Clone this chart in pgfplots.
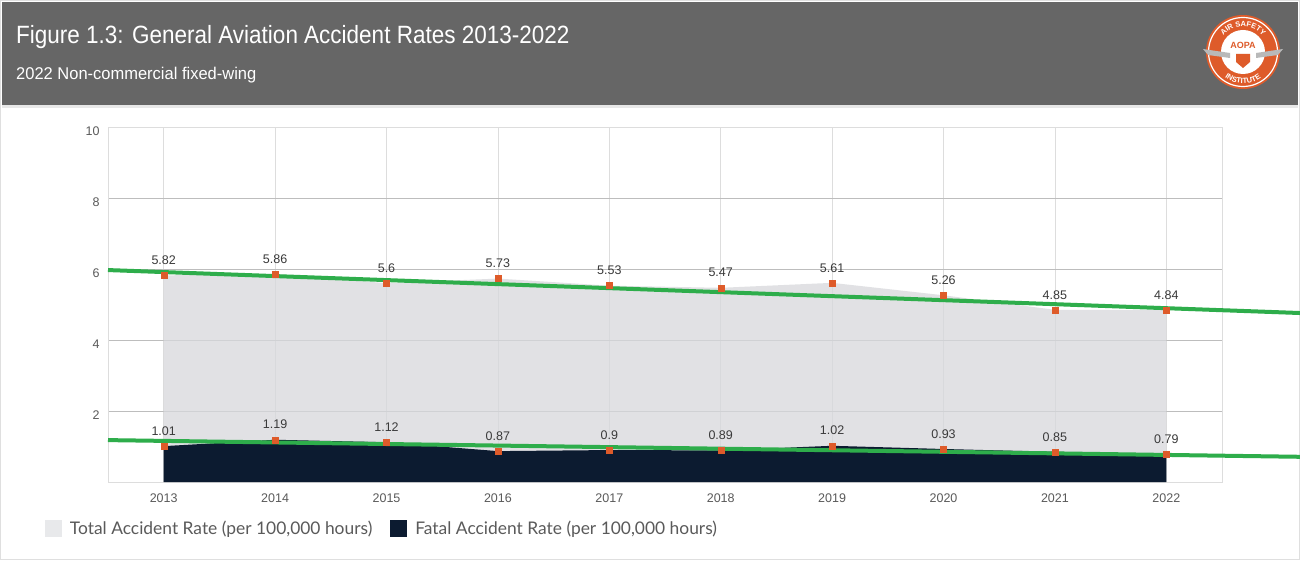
\documentclass[border=0pt]{standalone}
\usepackage{fontspec}
\setmainfont{Liberation Sans}
\newfontfamily\titlefont[FakeStretch=0.90]{Liberation Sans}
\newfontfamily\subfont[FakeStretch=0.97]{Liberation Sans}
\newfontfamily\legfont{Lato}
\usepackage{pgfplots}
\pgfplotsset{compat=1.18}
\usetikzlibrary{decorations.text}
\definecolor{hdr}{HTML}{666666}
\definecolor{totfill}{HTML}{D7D8DC}
\definecolor{totleg}{HTML}{E1E2E5}
\definecolor{fatfill}{HTML}{0C1B30}
\definecolor{mk}{HTML}{DE5B2A}
\definecolor{trend}{HTML}{2EAD4B}
\definecolor{lbl}{HTML}{3A3A3A}
\definecolor{tickc}{HTML}{5A5A5A}
\definecolor{legc}{HTML}{5A5A5A}
\definecolor{hgrid}{HTML}{BDBDBD}
\definecolor{vgrid}{HTML}{DDDDDD}
\begin{document}
\begin{tikzpicture}[x=1pt,y=1pt]
\useasboundingbox (0,0) rectangle (1300,560);
\fill[white] (0,0) rectangle (1300,560);
\draw[gray!25] (0.5,0.5) rectangle (1299.5,559.5);
% header
\fill[hdr] (2,455) rectangle (1298,558);
\fill[gray!18] (2,452) rectangle (1298,455);
\node[anchor=base west, inner sep=0pt, text=white, font=\titlefont\fontsize{25}{30}\selectfont] at (16,516.5) {Figure 1.3: General Aviation Accident Rates 2013-2022};
\node[anchor=base west, inner sep=0pt, text=white, font=\subfont\fontsize{17}{20}\selectfont] at (16,480) {2022 Non-commercial fixed-wing};
% logo
\fill[mk] (1243,508) circle (37);
\draw[white, line width=1.2] (1243,508) circle (34.5);
\fill[white] (1243,508) circle (22);
\fill[gray!55] (1203,511) -- (1230,507) -- (1230,502) -- (1208,505) -- cycle;
\fill[gray!55] (1283,511) -- (1256,507) -- (1256,502) -- (1278,505) -- cycle;
\fill[mk] (1236,506) -- (1250,506) -- (1250,498) -- (1243,492) -- (1236,498) -- cycle;
\node[text=mk, font=\bfseries\fontsize{9}{9}\selectfont, inner sep=0pt] at (1243,515) {AOPA};
\path[decorate, decoration={text along path, text align=center, text color=white, text={|\bfseries\fontsize{7.5}{7.5}\selectfont|AIR SAFETY}}] (1243,508) ++(160:25.5) arc (160:20:25.5);
\path[decorate, decoration={text along path, text align=center, text color=white, text={|\bfseries\fontsize{7.5}{7.5}\selectfont|INSTITUTE}}] (1243,508) ++(205:31.5) arc (205:335:31.5);
\begin{axis}[
  at={(108pt,78pt)}, anchor=south west,
  scale only axis, width=1114pt, height=355pt,
  xmin=-0.5, xmax=9.5, ymin=0, ymax=10,
  clip=false,
  xtick={0,...,9},
  xticklabels={2013,2014,2015,2016,2017,2018,2019,2020,2021,2022},
  ytick={2,4,6,8,10},
  xmajorgrids, ymajorgrids,
  x grid style={vgrid, line width=0.8pt},
  y grid style={hgrid, line width=0.8pt},
  axis line style={vgrid, line width=0.8pt},
  major tick length=0pt,
  tick style={draw=none},
  /pgf/number format/assume math mode=true,
  ticklabel style={font=\fontsize{12.5}{14}\selectfont, text=tickc},
  xticklabel style={yshift=-8pt},
  yticklabel style={xshift=-5pt, yshift=-4.5pt},
  legend columns=2,
  legend style={draw=none, fill=none, inner sep=0pt, outer sep=0pt,
    at={(-0.0566,-0.1296)}, anchor=west,
    font=\legfont\fontsize{17.4}{19}\selectfont, text=legc,
    nodes={inner sep=0pt},
    /tikz/every odd column/.append style={column sep=8pt},
    /tikz/every even column/.append style={column sep=18pt}},
  legend image code/.code={\fill[#1] (0pt,-8.5pt) rectangle (17pt,8.5pt);},
  nodes near coords style={font=\fontsize{12.5}{14}\selectfont, text=lbl, inner sep=0pt, anchor=south, yshift=10.5pt},
]
\addplot[fill=totfill, fill opacity=0.75, draw=none, area legend, legend image code/.code={\fill[totleg] (0pt,-8.5pt) rectangle (17pt,8.5pt);}] coordinates {
(0,5.82) (1,5.86) (2,5.60) (3,5.73) (4,5.53) (5,5.47) (6,5.61) (7,5.26) (8,4.85) (9,4.84)} \closedcycle;
\addlegendentry{Total Accident Rate (per 100,000 hours)}
\addplot[fill=fatfill, draw=none, area legend, legend image code/.code={\fill[fatfill] (0pt,-8.5pt) rectangle (17pt,8.5pt);}] coordinates {
(0,1.01) (1,1.19) (2,1.12) (3,0.87) (4,0.90) (5,0.89) (6,1.02) (7,0.93) (8,0.85) (9,0.79)} \closedcycle;
\addlegendentry{Fatal Accident Rate (per 100,000 hours)}
% trend lines
\addplot[trend, line width=4pt, forget plot] coordinates {(-0.5,5.97) (10.2,4.76)};
\addplot[trend, line width=4pt, forget plot] coordinates {(-0.5,1.18) (10.2,0.71)};
% markers and labels
\addplot[only marks, mark=square*, mark size=3pt, mk, forget plot, nodes near coords, point meta=y] coordinates {
(0,5.82) (1,5.86) (2,5.6) (3,5.73) (4,5.53) (5,5.47) (6,5.61) (7,5.26) (8,4.85) (9,4.84)};
\addplot[only marks, mark=square*, mark size=3pt, mk, forget plot, nodes near coords, point meta=y] coordinates {
(0,1.01) (1,1.19) (2,1.12) (3,0.87) (4,0.9) (5,0.89) (6,1.02) (7,0.93) (8,0.85) (9,0.79)};
\end{axis}
\end{tikzpicture}
\end{document}
